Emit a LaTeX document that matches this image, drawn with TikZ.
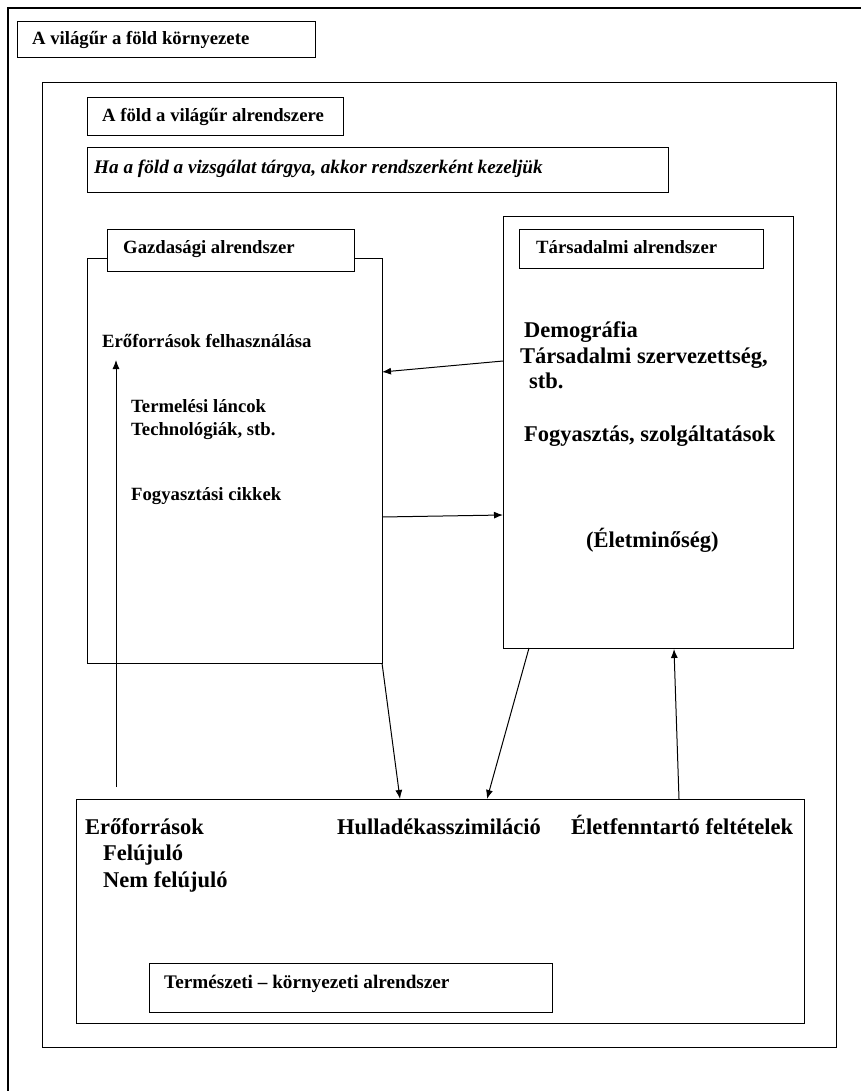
\documentclass[tikz,border=0pt]{standalone}
\usepackage{fontspec}
\setmainfont{Liberation Serif}
\usetikzlibrary{arrows.meta}
\begin{document}
\begin{tikzpicture}[x=1pt,y=-1pt,
  frameline/.style={draw, line width=1.1pt},
  boxn/.style={draw, line width=1.1pt, fill=white, inner sep=0pt, anchor=north west},
  txt/.style={inner sep=0pt, anchor=base west, font=\bfseries\fontsize{18.7}{22}\selectfont},
  itxt/.style={inner sep=0pt, anchor=base west, font=\bfseries\itshape\fontsize{19.2}{22}\selectfont},
  bigtxt/.style={inner sep=0pt, anchor=base west, font=\bfseries\fontsize{22.5}{26}\selectfont},
  arr/.style={-{Latex[length=9pt,width=7pt]}, line width=1pt}]
\useasboundingbox[fill=white] (0,0) rectangle (861,1091);

% outer frame (cut off at right and bottom)
\draw[frameline] (861,8) -- (8,8) -- (8,1091);

% title box of outer frame
\node[boxn, minimum width=298pt, minimum height=36pt] (t1) at (17,21) {};
\node[txt] (t1txt) at (32,45) {A világűr a föld környezete};

% inner frame
\node[boxn, minimum width=794pt, minimum height=965pt] (inner) at (42,82) {};
\node[boxn, minimum width=256pt, minimum height=38pt] (t2) at (87,97) {};
\node[txt] (t2txt) at (102,122) {A föld a világűr alrendszere};
\node[boxn, minimum width=581pt, minimum height=45pt] (t3) at (87,147) {};
\node[itxt] (t3txt) at (94,174) {Ha a föld a vizsgálat tárgya, akkor rendszerként kezeljük};

% economic subsystem
\node[boxn, minimum width=295pt, minimum height=405pt] (gazd) at (87,258) {};
\node[boxn, minimum width=247pt, minimum height=42pt] (gazdlab) at (107,229) {};
\node[txt] (gazdtxt) at (123,253) {Gazdasági alrendszer};
\node[txt] (g1) at (102,347) {Erőforrások felhasználása};
\node[txt] (g2) at (131,412) {Termelési láncok};
\node[txt] (g3) at (131,435) {Technológiák, stb.};
\node[txt] (g4) at (131,500) {Fogyasztási cikkek};

% social subsystem
\node[boxn, minimum width=290pt, minimum height=432pt] (tars) at (503,216) {};
\node[boxn, minimum width=244pt, minimum height=39pt] (tarslab) at (519,229) {};
\node[txt] (tarstxt) at (536,254) {Társadalmi alrendszer};
\node[bigtxt] (s1) at (524,337) {Demográfia};
\node[bigtxt] (s2) at (520,363) {Társadalmi szervezettség,};
\node[bigtxt] (s3) at (529,388) {stb.};
\node[bigtxt] (s4) at (524,441) {Fogyasztás, szolgáltatások};
\node[bigtxt] (s5) at (586,547) {(Életminőség)};

% natural subsystem
\node[boxn, minimum width=728pt, minimum height=224pt] (term) at (76,799) {};
\node[bigtxt] (n1) at (85,834) {Erőforrások};
\node[bigtxt] (n2) at (103,860) {Felújuló};
\node[bigtxt] (n3) at (103,887) {Nem felújuló};
\node[bigtxt] (n4) at (337,834) {Hulladékasszimiláció};
\node[bigtxt] (n5) at (571,834) {Életfenntartó feltételek};
\node[boxn, minimum width=403pt, minimum height=49pt] (termlab) at (149,963) {};
\node[txt, font=\bfseries\fontsize{19.2}{22}\selectfont] (termtxt) at (164,988) {Természeti – környezeti alrendszer};

% connector end points
\coordinate (ts1) at (503,361);
\coordinate (ge1) at (382,372);
\coordinate (ge2) at (382,517);
\coordinate (ts2) at (503,515);
\coordinate (ga) at (116,787);
\coordinate (gb) at (116,360);
\coordinate (gbot) at (382,663);
\coordinate (nt1) at (400,799);
\coordinate (tbot) at (529,648);
\coordinate (nt2) at (487,799);
\coordinate (nt3) at (679,799);
\coordinate (tbot2) at (674,649);

\draw[arr] (ts1) -- (ge1);
\draw[arr] (ge2) -- (ts2);
\draw[arr] (ga) -- (gb);
\draw[arr] (gbot) -- (nt1);
\draw[arr] (tbot) -- (nt2);
\draw[arr] (nt3) -- (tbot2);
\end{tikzpicture}
\end{document}
